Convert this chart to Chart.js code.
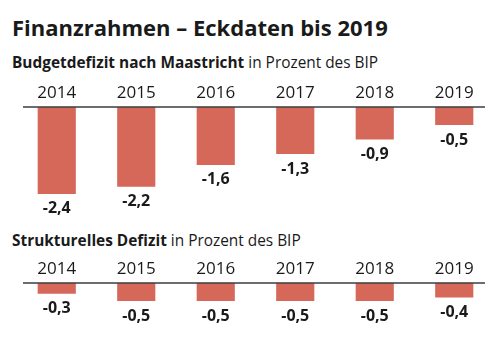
<!DOCTYPE html>
<html lang="de">
<head>
<meta charset="utf-8">
<title>Finanzrahmen – Eckdaten bis 2019</title>
<script src="https://cdn.jsdelivr.net/npm/chart.js@4"></script>
<style>
  body { margin: 0; background: #fff; width: 494px; height: 346px; overflow: hidden; position: relative; font-family: "Open Sans", sans-serif; color: #1a1a1a; }
  h1 { position: absolute; left: 12px; top: 12px; margin: 0; font-size: 22px; font-weight: 700; white-space: nowrap; }
  .sub { position: absolute; left: 12px; margin: 0; font-size: 15.4px; white-space: nowrap; }
  .sub b { font-weight: 700; }
  canvas { position: absolute; left: 0; }
</style>
</head>
<body>
<h1>Finanzrahmen – Eckdaten bis 2019</h1>
<p class="sub" style="top:52px"><b>Budgetdefizit nach Maastricht</b> in Prozent des BIP</p>
<div><canvas id="budgetChart" width="494" height="131" style="top:85px"></canvas></div>
<p class="sub" style="top:230px"><b>Strukturelles Defizit</b> in Prozent des BIP</p>
<div><canvas id="strukturChart" width="494" height="72" style="top:261px"></canvas></div>

<script>
const years = ["2014", "2015", "2016", "2017", "2018", "2019"];
const budgetDefizit = [-2.4, -2.2, -1.6, -1.3, -0.9, -0.5];
const strukturellesDefizit = [-0.3, -0.5, -0.5, -0.5, -0.5, -0.4];

const barColor = "#d6685a";
const textColor = "#1a1a1a";

// zero line and value labels under each bar
const valueLabels = {
  id: "valueLabels",
  afterDatasetsDraw(chart) {
    const ctx = chart.ctx;
    const area = chart.chartArea;
    const y0 = chart.scales.y.getPixelForValue(0);
    ctx.save();
    ctx.strokeStyle = "#3c3c3c";
    ctx.lineWidth = 1.5;
    ctx.beginPath();
    ctx.moveTo(area.left + 6, y0);
    ctx.lineTo(area.right - 9, y0);
    ctx.stroke();

    ctx.fillStyle = textColor;
    ctx.font = "700 16px 'Open Sans'";
    ctx.textAlign = "center";
    ctx.textBaseline = "middle";
    const data = chart.data.datasets[0].data;
    chart.getDatasetMeta(0).data.forEach((bar, i) => {
      const label = data[i].toFixed(1).replace(".", ",");
      ctx.fillText(label, bar.x, bar.y + 15);
    });
    ctx.restore();
  },
};

function createChart(id, values, yMin, bottomPad) {
  const ctx = document.getElementById(id).getContext("2d");
  new Chart(ctx, {
    type: "bar",
    data: {
      labels: years,
      datasets: [
        {
          data: values,
          backgroundColor: barColor,
          borderWidth: 0,
          barPercentage: 0.48,
          categoryPercentage: 1,
        },
      ],
    },
    options: {
      responsive: false,
      animation: false,
      layout: { padding: { left: 17, right: 0, top: 0, bottom: bottomPad } },
      plugins: { legend: { display: false }, tooltip: { enabled: false } },
      scales: {
        x: {
          position: "top",
          grid: { display: false, drawTicks: false },
          border: { display: false },
          ticks: {
            color: textColor,
            font: { family: "Open Sans", size: 17 },
            padding: 4,
          },
          afterFit(scale) {
            scale.height = 22;
          },
        },
        y: { display: false, min: yMin, max: 0 },
      },
    },
    plugins: [valueLabels],
  });
}

createChart("budgetChart", budgetDefizit, -3, 0.4);
createChart("strukturChart", strukturellesDefizit, -1, 13.8);
</script>
</body>
</html>
